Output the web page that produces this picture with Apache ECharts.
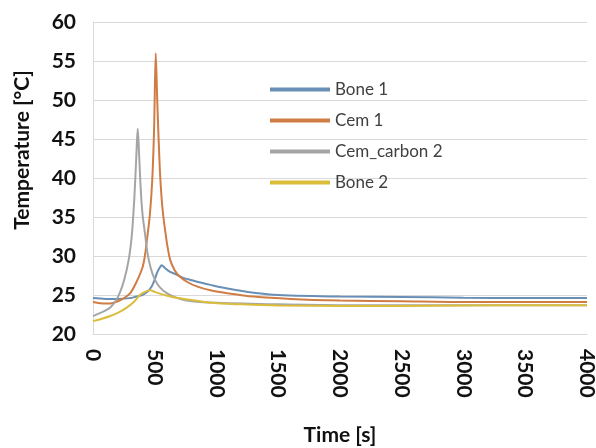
<!DOCTYPE html>
<html>
<head>
<meta charset="utf-8">
<script src="https://cdn.jsdelivr.net/npm/echarts@6/dist/echarts.min.js"></script>
<style>
  html, body { margin: 0; padding: 0; background: #fff; }
  #main { width: 596px; height: 448px; }
</style>
</head>
<body>
<div id="main"></div>
<script>
// series names
var seriesNames = ['Bone 1', 'Cem 1', 'Cem_carbon 2', 'Bone 2'];

// Bone 1
var bone1Time = [0, 100, 200, 300, 350, 400, 440, 475, 500, 520, 540, 556, 580, 620, 680, 730, 800, 870, 950, 1100, 1300, 1500, 2000, 2500, 3000, 3500, 4000];
var bone1Temp = [24.6, 24.5, 24.5, 24.6, 24.8, 25.0, 25.4, 26.1, 27.0, 27.9, 28.5, 28.8, 28.5, 28.0, 27.6, 27.2, 26.9, 26.6, 26.3, 25.8, 25.3, 25.0, 24.8, 24.75, 24.65, 24.6, 24.6];

// Cem 1
var cem1Time = [0, 100, 140, 200, 250, 300, 350, 400, 420, 440, 460, 480, 495, 508, 520, 540, 555, 570, 585, 600, 625, 660, 700, 760, 840, 950, 1100, 1300, 1600, 2000, 2500, 3000, 3500, 4000];
var cem1Temp = [24.1, 23.9, 23.9, 24.2, 24.6, 25.2, 26.6, 28.5, 30.0, 32.5, 35.2, 39.8, 46.5, 56.0, 50.0, 41.5, 37.5, 35.0, 33.2, 31.5, 29.5, 28.2, 27.4, 26.7, 26.1, 25.6, 25.2, 24.8, 24.5, 24.3, 24.2, 24.1, 24.1, 24.1];

// Cem_carbon 2
var cemCarbonTime = [0, 60, 140, 200, 250, 290, 315, 335, 350, 362, 372, 385, 400, 420, 440, 465, 500, 540, 600, 700, 800, 1000, 1500, 2000, 3000, 4000];
var cemCarbonTemp = [22.3, 22.7, 23.4, 24.7, 26.8, 29.6, 32.8, 37.5, 42.5, 46.3, 43.5, 39.0, 35.5, 33.0, 30.5, 28.6, 27.0, 26.0, 25.2, 24.5, 24.2, 24.0, 23.8, 23.7, 23.7, 23.7];

// Bone 2
var bone2Time = [0, 60, 140, 200, 270, 330, 380, 420, 462, 500, 570, 650, 785, 950, 1200, 1500, 2000, 2500, 3000, 3500, 4000];
var bone2Temp = [21.65, 21.9, 22.3, 22.7, 23.35, 24.1, 25.0, 25.4, 25.6, 25.4, 25.05, 24.7, 24.4, 24.0, 23.8, 23.65, 23.6, 23.6, 23.65, 23.7, 23.7];

var colors = ['#6a8fb6', '#d07d45', '#a5a5a5', '#dbbd3c'];

function pairs(t, v) {
    var out = [];
    for (var i = 0; i < t.length; i++) out.push([t[i], v[i]]);
    return out;
}

var seriesData = [
    pairs(bone1Time, bone1Temp),
    pairs(cem1Time, cem1Temp),
    pairs(cemCarbonTime, cemCarbonTemp),
    pairs(bone2Time, bone2Temp)
];

var myChart = echarts.init(document.getElementById('main'));

var series = [];
for (var i = 0; i < seriesNames.length; i++) {
    series.push({
        name: seriesNames[i],
        type: 'line',
        data: seriesData[i],
        showSymbol: false,
        smooth: 0.3,
        lineStyle: { width: 2, color: colors[i] },
        itemStyle: { color: colors[i] }
    });
}

var option = {
    animation: false,
    backgroundColor: '#fff',
    color: colors,
    grid: { left: 93, right: 9, top: 22, bottom: 114, outerBoundsMode: 'none', containLabel: false },
    legend: {
        orient: 'vertical',
        left: 265,
        top: 76,
        icon: 'rect',
        itemWidth: 60,
        itemHeight: 4,
        itemGap: 14,
        data: seriesNames,
        textStyle: { fontFamily: 'Lato', fontSize: 17, color: '#404040' }
    },
    xAxis: {
        type: 'value',
        min: 0,
        max: 4000,
        interval: 500,
        name: 'Time [s]',
        nameLocation: 'middle',
        nameGap: 91,
        nameTextStyle: { fontFamily: 'Lato', fontWeight: 'bold', fontSize: 21, color: '#111' },
        axisLine: { show: true, lineStyle: { color: '#d9d9d9' } },
        axisTick: { show: false },
        splitLine: { show: false },
        axisLabel: {
            rotate: -90,
            margin: 15,
            fontFamily: 'Lato',
            fontWeight: 'bold',
            fontSize: 21,
            color: '#111',
            formatter: function (v) { return String(v); }
        }
    },
    yAxis: {
        type: 'value',
        min: 20,
        max: 60,
        interval: 5,
        name: 'Temperature [°C]',
        nameLocation: 'middle',
        nameGap: 60,
        nameTextStyle: { fontFamily: 'Lato', fontWeight: 'bold', fontSize: 21, color: '#111', padding: [0, 0, 0, 56] },
        axisLine: { show: true, lineStyle: { color: '#d9d9d9' } },
        axisTick: { show: false },
        splitLine: { lineStyle: { color: '#d9d9d9' } },
        axisLabel: {
            margin: 17,
            fontFamily: 'Lato',
            fontWeight: 'bold',
            fontSize: 21,
            color: '#111'
        }
    },
    series: series
};

myChart.setOption(option);
</script>
</body>
</html>
